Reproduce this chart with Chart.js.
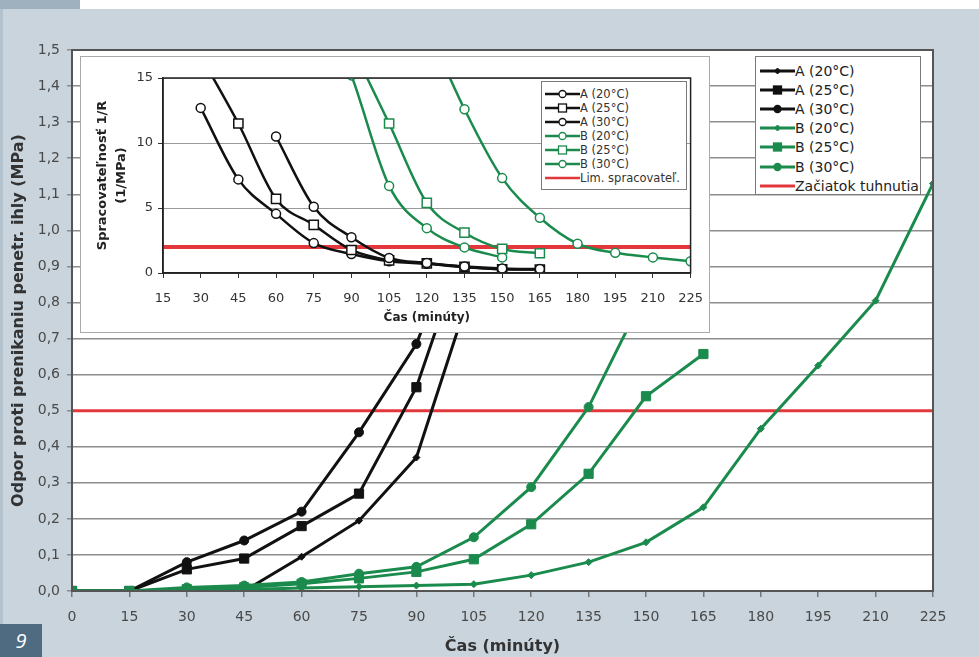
<!DOCTYPE html>
<html lang="sk">
<head>
<meta charset="utf-8">
<title>Odpor proti prenikaniu penetračnej ihly</title>
<script src="https://cdn.jsdelivr.net/npm/chart.js@4.4.1/dist/chart.umd.min.js"></script>
<style>
    html, body { margin: 0; padding: 0; }
    body {
        width: 979px; height: 657px; position: relative; overflow: hidden;
        background: #c9d4dc; font-family: "DejaVu Sans", sans-serif;
    }
    .topband { position: absolute; left: 0; top: 0; width: 979px; height: 9px; background: #fff; }
    .topband .tab { position: absolute; left: 0; top: 0; width: 80px; height: 9px; background: #9fb1be; }
    .edge { position: absolute; left: 0; top: 9px; width: 3px; height: 648px; background: #b3c2cd; }
    .page-no {
        position: absolute; left: 0; top: 624px; width: 42px; height: 33px;
        background: #4f6b82; color: #fff; font: italic 20px "Open Sans", sans-serif;
        line-height: 33px; text-align: center;
    }
    #mainChart { position: absolute; left: 0; top: 0; }
    .inset {
        position: absolute; left: 80px; top: 56px; width: 628px; height: 275px;
        background: #fff; border: 1px solid #a9a9a9;
    }
    .inset canvas { position: absolute; left: 0; top: 0; }
    .legend {
        position: absolute; background: #fff; border: 1px solid #7a7a7a; box-sizing: border-box;
    }
    .legend .row { display: flex; align-items: center; white-space: nowrap; }
    .legend svg { flex: none; }
    #mainLegend { left: 755px; top: 56px; width: 166px; height: 139px; padding: 4px 0 0 4px; font-size: 14px; color: #222; }
    #mainLegend .row { height: 19.2px; }
    #insetLegend { left: 541px; top: 81px; width: 146px; height: 109px; padding: 5px 0 0 3px; font-size: 11.5px; color: #333; }
    #insetLegend .row { height: 14px; }
</style>
</head>
<body>
<div class="topband"><div class="tab"></div></div>
<div class="edge"></div>
<canvas id="mainChart" width="979" height="657"></canvas>
<div class="inset"><canvas id="insetChart" width="635" height="275"></canvas></div>
<div class="legend" id="mainLegend"></div>
<div class="legend" id="insetLegend"></div>
<div class="page-no">9</div>

<script>
// time axis (minutes)
const minutes = [0, 15, 30, 45, 60, 75, 90, 105, 120, 135, 150, 165, 180, 195, 210, 225];
const insetMinutes = [15, 30, 45, 60, 75, 90, 105, 120, 135, 150, 165, 180, 195, 210, 225];

// penetration resistance, MPa (main chart)
const resA20 = [0, 0, 0, 0, 0.095, 0.195, 0.37, 0.86, 1.3];
const resA25 = [0, 0, 0.06, 0.09, 0.18, 0.27, 0.565, 1.03, 1.35];
const resA30 = [0, 0, 0.08, 0.14, 0.22, 0.44, 0.685, 1.1, 1.4];
const resB20 = [0, 0, 0, 0.004, 0.008, 0.012, 0.015, 0.019, 0.044, 0.08, 0.135, 0.232, 0.45, 0.625, 0.805, 1.13];
const resB25 = [0, 0, 0.005, 0.01, 0.02, 0.035, 0.053, 0.088, 0.185, 0.325, 0.54, 0.657];
const resB30 = [0, 0, 0.01, 0.015, 0.025, 0.048, 0.067, 0.149, 0.288, 0.51, 0.83];

// workability 1/R, 1/MPa (inset)
const workA20 = [null, null, null, 10.5, 5.1, 2.75, 1.16, 0.77, 0.5, 0.35, 0.3];
const workA25 = [null, 16.7, 11.5, 5.7, 3.7, 1.77, 0.97, 0.74, 0.48, 0.28, 0.26];
const workA30 = [null, 12.7, 7.2, 4.55, 2.3, 1.46, 0.91, 0.71, 0.45, 0.31, 0.28];
const workB20 = [null, null, null, null, null, null, null, 19, 12.6, 7.3, 4.25, 2.25, 1.55, 1.2, 0.9];
const workB25 = [null, null, null, null, null, 17.5, 11.5, 5.4, 3.1, 1.85, 1.52];
const workB30 = [null, null, null, null, 22, 15.2, 6.7, 3.45, 1.97, 1.2];

// limit lines
const limitMinutes = [0, 225];
const limitRes = [0.5, 0.5];
const insetLimitMinutes = [15, 225];
const limitWork = [2, 2];

// ticks
const mainXTicks = [0, 15, 30, 45, 60, 75, 90, 105, 120, 135, 150, 165, 180, 195, 210, 225];
const mainYTicks = [0, 0.1, 0.2, 0.3, 0.4, 0.5, 0.6, 0.7, 0.8, 0.9, 1.0, 1.1, 1.2, 1.3, 1.4, 1.5];
const insetXTicks = [15, 30, 45, 60, 75, 90, 105, 120, 135, 150, 165, 180, 195, 210, 225];
const insetYTicks = [0, 5, 10, 15];

const mainLabels = ['A (20°C)', 'A (25°C)', 'A (30°C)', 'B (20°C)', 'B (25°C)', 'B (30°C)', 'Začiatok tuhnutia'];
const insetLabels = ['A (20°C)', 'A (25°C)', 'A (30°C)', 'B (20°C)', 'B (25°C)', 'B (30°C)', 'Lim. spracovateľ.'];

const BLACK = '#111';
const GREEN = '#1b8b4d';
const RED = '#e2383c';
const FONT = '"DejaVu Sans", sans-serif';

function toPoints(xs, ys) {
    return ys.map((y, i) => ({ x: xs[i], y: y }));
}

// marker look per temperature: 20 = small diamond, 25 = square, 30 = circle
const mainMarks = [
    { style: 'rectRot', radius: 3.5 },
    { style: 'rect', radius: 6.5 },
    { style: 'circle', radius: 4.5 }
];
const insetMarks = [
    { style: 'circle', radius: 4.5 },
    { style: 'rect', radius: 6.5 },
    { style: 'circle', radius: 4.5 }
];

function mainSeries(label, ys, color, mark, order) {
    return {
        label, data: toPoints(minutes, ys), borderColor: color, backgroundColor: color,
        borderWidth: 3, pointStyle: mark.style, pointRadius: mark.radius,
        pointBackgroundColor: color, pointBorderColor: color, pointBorderWidth: 1,
        tension: 0, order
    };
}

function insetSeries(label, ys, color, mark, order) {
    return {
        label, data: toPoints(insetMinutes, ys), borderColor: color, backgroundColor: '#fff',
        borderWidth: 2.5, pointStyle: mark.style, pointRadius: mark.radius,
        pointBackgroundColor: '#fff', pointBorderColor: color, pointBorderWidth: 1.5,
        cubicInterpolationMode: 'monotone', spanGaps: false, order
    };
}

function limitSeries(label, xs, ys, width) {
    return {
        label, data: toPoints(xs, ys), borderColor: RED, borderWidth: width,
        pointRadius: 0, tension: 0, order: 2
    };
}

// white plot area + frame around it
const plotFrame = {
    id: 'plotFrame',
    beforeDraw(chart) {
        const { ctx, chartArea: a } = chart;
        ctx.save();
        ctx.fillStyle = '#fff';
        ctx.fillRect(a.left, a.top, a.width, a.height);
        ctx.restore();
    },
    afterDatasetsDraw(chart, args, opts) {
        const { ctx, chartArea: a } = chart;
        ctx.save();
        ctx.strokeStyle = opts.color;
        ctx.lineWidth = opts.width;
        ctx.strokeRect(a.left, a.top, a.width, a.height);
        ctx.restore();
    }
};

new Chart(document.getElementById('mainChart'), {
    type: 'line',
    data: {
        datasets: [
            mainSeries(mainLabels[0], resA20, BLACK, mainMarks[0], 1),
            mainSeries(mainLabels[1], resA25, BLACK, mainMarks[1], 1),
            mainSeries(mainLabels[2], resA30, BLACK, mainMarks[2], 1),
            mainSeries(mainLabels[3], resB20, GREEN, mainMarks[0], 0),
            mainSeries(mainLabels[4], resB25, GREEN, mainMarks[1], 0),
            mainSeries(mainLabels[5], resB30, GREEN, mainMarks[2], 0),
            limitSeries(mainLabels[6], limitMinutes, limitRes, 3)
        ]
    },
    options: {
        responsive: false,
        animation: false,
        events: [],
        layout: { padding: { left: 0, top: 50, right: 46, bottom: 0 } },
        plugins: {
            legend: { display: false },
            tooltip: { enabled: false },
            plotFrame: { color: '#555', width: 2 }
        },
        scales: {
            x: {
                type: 'linear', min: 0, max: 225,
                afterBuildTicks: axis => { axis.ticks = mainXTicks.map(v => ({ value: v })); },
                afterFit: axis => { axis.height = 66; },
                grid: { drawOnChartArea: false, tickLength: 6, color: '#777', lineWidth: 1.5 },
                border: { color: '#555', width: 2 },
                ticks: { color: '#4a4a4a', padding: 12, maxRotation: 0, font: { family: FONT, size: 14 } },
                title: {
                    display: true, text: 'Čas (minúty)', color: '#333',
                    font: { family: FONT, size: 16, weight: 'bold' }, padding: { top: 0, bottom: 1 }
                }
            },
            y: {
                type: 'linear', min: 0, max: 1.5,
                afterBuildTicks: axis => { axis.ticks = mainYTicks.map(v => ({ value: v })); },
                afterFit: axis => { axis.width = 72; },
                grid: { color: '#8d8d8d', lineWidth: 1.5, tickLength: 5 },
                border: { color: '#555', width: 2 },
                ticks: {
                    color: '#4a4a4a', padding: 7, font: { family: FONT, size: 14 },
                    callback: v => v.toFixed(1).replace('.', ',')
                },
                title: {
                    display: true, text: 'Odpor proti prenikaniu penetr. ihly (MPa)', color: '#333',
                    font: { family: FONT, size: 16, weight: 'bold' }, padding: { top: 9, bottom: 0 }
                }
            }
        }
    },
    plugins: [plotFrame]
});

new Chart(document.getElementById('insetChart'), {
    type: 'line',
    data: {
        datasets: [
            insetSeries(insetLabels[0], workA20, BLACK, insetMarks[0], 1),
            insetSeries(insetLabels[1], workA25, BLACK, insetMarks[1], 1),
            insetSeries(insetLabels[2], workA30, BLACK, insetMarks[2], 1),
            insetSeries(insetLabels[3], workB20, GREEN, insetMarks[0], 0),
            insetSeries(insetLabels[4], workB25, GREEN, insetMarks[1], 0),
            insetSeries(insetLabels[5], workB30, GREEN, insetMarks[2], 0),
            limitSeries(insetLabels[6], insetLimitMinutes, limitWork, 4)
        ]
    },
    options: {
        responsive: false,
        animation: false,
        events: [],
        layout: { padding: { left: 0, top: 21, right: 13, bottom: 0 } },
        plugins: {
            legend: { display: false },
            tooltip: { enabled: false },
            plotFrame: { color: '#222', width: 1.5 }
        },
        scales: {
            x: {
                type: 'linear', min: 15, max: 225,
                afterBuildTicks: axis => { axis.ticks = insetXTicks.map(v => ({ value: v })); },
                afterFit: axis => { axis.height = 59; },
                grid: { drawOnChartArea: false, tickLength: 5, color: '#333' },
                border: { color: '#222', width: 1.5 },
                ticks: { color: '#333', padding: 13, maxRotation: 0, font: { family: FONT, size: 13 } },
                title: {
                    display: true, text: 'Čas (minúty)', color: '#222',
                    font: { family: FONT, size: 12, weight: 'bold' }, padding: { top: 0, bottom: 7 }
                }
            },
            y: {
                type: 'linear', min: 0, max: 15,
                afterBuildTicks: axis => { axis.ticks = insetYTicks.map(v => ({ value: v })); },
                afterFit: axis => { axis.width = 82; },
                grid: { color: '#9a9a9a', lineWidth: 1, tickLength: 5, tickColor: '#333' },
                border: { color: '#222', width: 1.5 },
                ticks: { color: '#333', padding: 5, font: { family: FONT, size: 13 } },
                title: {
                    display: true, text: ['Spracovateľnosť 1/R', '(1/MPa)'], color: '#222',
                    font: { family: FONT, size: 13, weight: 'bold', lineHeight: 1.45 },
                    padding: { top: 12, bottom: 0 }
                }
            }
        }
    },
    plugins: [plotFrame]
});

// legends
function markerSvg(color, shape, open, size, lineWidth) {
    const w = 35, h = 14, cx = 17.5, cy = 7;
    const fill = open ? '#fff' : color;
    let mark = '';
    if (shape === 'circle') {
        mark = `<circle cx="${cx}" cy="${cy}" r="${size}" fill="${fill}" stroke="${color}" stroke-width="1.3"/>`;
    } else if (shape === 'rect') {
        mark = `<rect x="${cx - size}" y="${cy - size}" width="${size * 2}" height="${size * 2}" fill="${fill}" stroke="${color}" stroke-width="1.3"/>`;
    } else if (shape === 'diamond') {
        mark = `<polygon points="${cx - size},${cy} ${cx},${cy - size} ${cx + size},${cy} ${cx},${cy + size}" fill="${fill}" stroke="${color}"/>`;
    }
    return `<svg width="${w}" height="${h}" viewBox="0 0 ${w} ${h}">` +
        `<line x1="0" y1="${cy}" x2="${w}" y2="${cy}" stroke="${color}" stroke-width="${lineWidth}"/>${mark}</svg>`;
}

function fillLegend(id, labels, shapes, open, sizes, lineWidth) {
    const box = document.getElementById(id);
    labels.forEach((label, i) => {
        const color = i < 3 ? BLACK : (i < 6 ? GREEN : RED);
        const shape = i < 6 ? shapes[i % 3] : 'none';
        const size = i < 6 ? sizes[i % 3] : 0;
        const row = document.createElement('div');
        row.className = 'row';
        row.innerHTML = markerSvg(color, shape, open, size, lineWidth) + `<span>${label}</span>`;
        box.appendChild(row);
    });
}

fillLegend('mainLegend', mainLabels, ['diamond', 'rect', 'circle'], false, [3, 4, 3.5], 3);
fillLegend('insetLegend', insetLabels, ['circle', 'rect', 'circle'], true, [3.5, 4, 3.5], 2.5);
</script>
</body>
</html>
